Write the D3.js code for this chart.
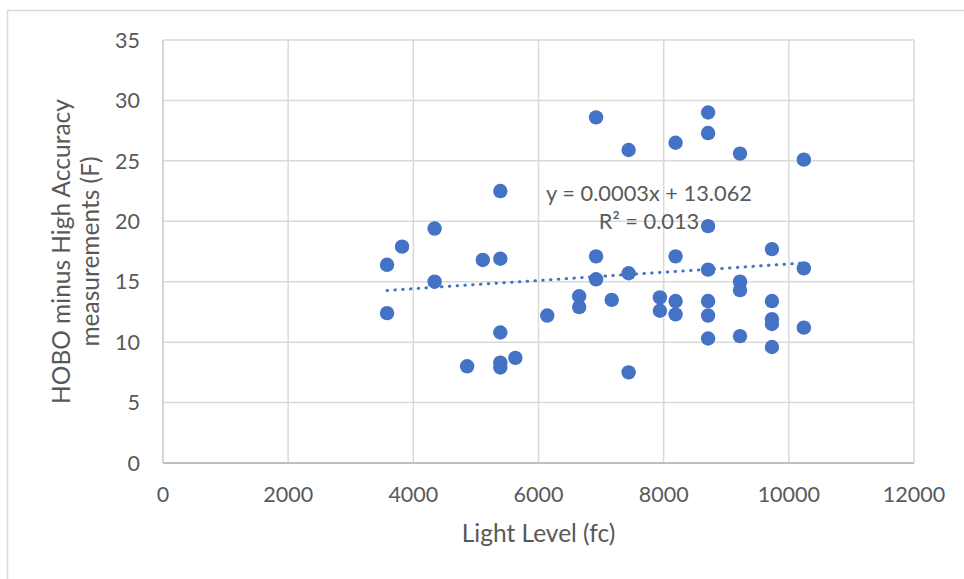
<!DOCTYPE html>
<html>
<head>
<meta charset="utf-8">
<script src="https://cdn.jsdelivr.net/npm/d3@7"></script>
<style>
  html, body { margin: 0; padding: 0; background: #fff; }
  svg { display: block; font-family: Lato, "Open Sans", sans-serif; }
  .tick-label { fill: #595959; font-size: 21.5px; }
  .axis-title { fill: #595959; font-size: 24.5px; }
  .trend-label { fill: #595959; font-size: 21.8px; }
</style>
</head>
<body>
<div id="chart"></div>
<script>
// Light level (fc) vs HOBO minus high accuracy (F)
const lightLevel = [
  6920, 7440, 5390, 4340, 3820, 3580, 5110, 5390, 6920, 4340, 6920, 7440,
  6650, 6650, 7170, 3580, 6140, 5390, 4860, 5390, 5390, 5630, 7440,
  8710, 8710, 8190, 9220, 10240, 8710, 9730, 8190, 8710, 10240, 9220, 9220,
  7940, 7940, 8190, 8190, 8710, 8710, 8710, 9220, 9730, 9730, 9730, 9730, 10240
];
const tempDiff = [
  28.6, 25.9, 22.5, 19.4, 17.9, 16.4, 16.8, 16.9, 17.1, 15.0, 15.2, 15.7,
  13.8, 12.9, 13.5, 12.4, 12.2, 10.8, 8.0, 8.3, 7.9, 8.7, 7.5,
  29.0, 27.3, 26.5, 25.6, 25.1, 19.6, 17.7, 17.1, 16.0, 16.1, 15.0, 14.3,
  13.7, 12.6, 13.4, 12.3, 13.4, 12.2, 10.3, 10.5, 13.4, 11.9, 11.5, 9.6, 11.2
];
const xTicks = [0, 2000, 4000, 6000, 8000, 10000, 12000];
const yTicks = [0, 5, 10, 15, 20, 25, 30, 35];
const trendText = ["y = 0.0003x + 13.062", "R² = 0.013"];

const W = 964, H = 579;
const x = d3.scaleLinear().domain([0, 12000]).range([163, 914]);
const y = d3.scaleLinear().domain([0, 35]).range([463, 40]);

const svg = d3.select("#chart").append("svg")
  .attr("width", W)
  .attr("height", H);

// outer chart border
svg.append("rect")
  .attr("x", 7.5).attr("y", 10.5)
  .attr("width", W + 20).attr("height", H + 20)
  .attr("fill", "none")
  .attr("stroke", "#d9d9d9")
  .attr("stroke-width", 1.5);

// gridlines
svg.append("g").selectAll("line")
  .data(yTicks.filter(t => t > 0))
  .join("line")
  .attr("x1", x(0)).attr("x2", x(12000))
  .attr("y1", d => y(d)).attr("y2", d => y(d))
  .attr("stroke", "#d9d9d9").attr("stroke-width", 1.5);

svg.append("g").selectAll("line")
  .data(xTicks)
  .join("line")
  .attr("x1", d => x(d)).attr("x2", d => x(d))
  .attr("y1", y(0)).attr("y2", y(35))
  .attr("stroke", d => d === 0 ? "#c8c8c8" : "#d9d9d9")
  .attr("stroke-width", 1.5);

// x axis line
svg.append("line")
  .attr("x1", x(0)).attr("x2", x(12000))
  .attr("y1", y(0)).attr("y2", y(0))
  .attr("stroke", "#bfbfbf").attr("stroke-width", 1.8);

// tick labels
svg.append("g").selectAll("text")
  .data(xTicks)
  .join("text")
  .attr("class", "tick-label")
  .attr("x", d => x(d))
  .attr("y", 502)
  .attr("text-anchor", "middle")
  .text(d => d);

svg.append("g").selectAll("text")
  .data(yTicks)
  .join("text")
  .attr("class", "tick-label")
  .attr("x", 140)
  .attr("y", d => y(d))
  .attr("dy", "0.36em")
  .attr("text-anchor", "end")
  .text(d => d);

// axis titles
svg.append("text")
  .attr("class", "axis-title")
  .attr("x", x(6000))
  .attr("y", 542)
  .attr("text-anchor", "middle")
  .text("Light Level (fc)");

const yTitle = svg.append("text")
  .attr("class", "axis-title")
  .attr("transform", `translate(0, ${(y(0) + y(35)) / 2}) rotate(-90)`)
  .attr("text-anchor", "middle");
yTitle.append("tspan").attr("x", 0).attr("y", 70).text("HOBO minus High Accuracy");
yTitle.append("tspan").attr("x", 0).attr("y", 99).text("measurements (F)");

// linear trend (least squares)
const pts = lightLevel.map((v, i) => [v, tempDiff[i]]);
const mx = d3.mean(lightLevel), my = d3.mean(tempDiff);
const slope = d3.sum(pts, p => (p[0] - mx) * (p[1] - my)) / d3.sum(pts, p => (p[0] - mx) ** 2);
const intercept = my - slope * mx;
const [xmin, xmax] = d3.extent(lightLevel);

svg.append("line")
  .attr("x1", x(xmin)).attr("y1", y(intercept + slope * xmin))
  .attr("x2", x(xmax)).attr("y2", y(intercept + slope * xmax))
  .attr("stroke", "#4472c4")
  .attr("stroke-width", 3)
  .attr("stroke-linecap", "round")
  .attr("stroke-dasharray", "0.5 7.3");

// points
svg.append("g").selectAll("circle")
  .data(pts)
  .join("circle")
  .attr("cx", d => x(d[0]))
  .attr("cy", d => y(d[1]))
  .attr("r", 7.2)
  .attr("fill", "#4472c4");

// equation label
svg.append("g").selectAll("text")
  .data(trendText)
  .join("text")
  .attr("class", "trend-label")
  .attr("x", 649)
  .attr("y", (d, i) => 200.5 + i * 28.5)
  .attr("text-anchor", "middle")
  .text(d => d);
</script>
</body>
</html>
